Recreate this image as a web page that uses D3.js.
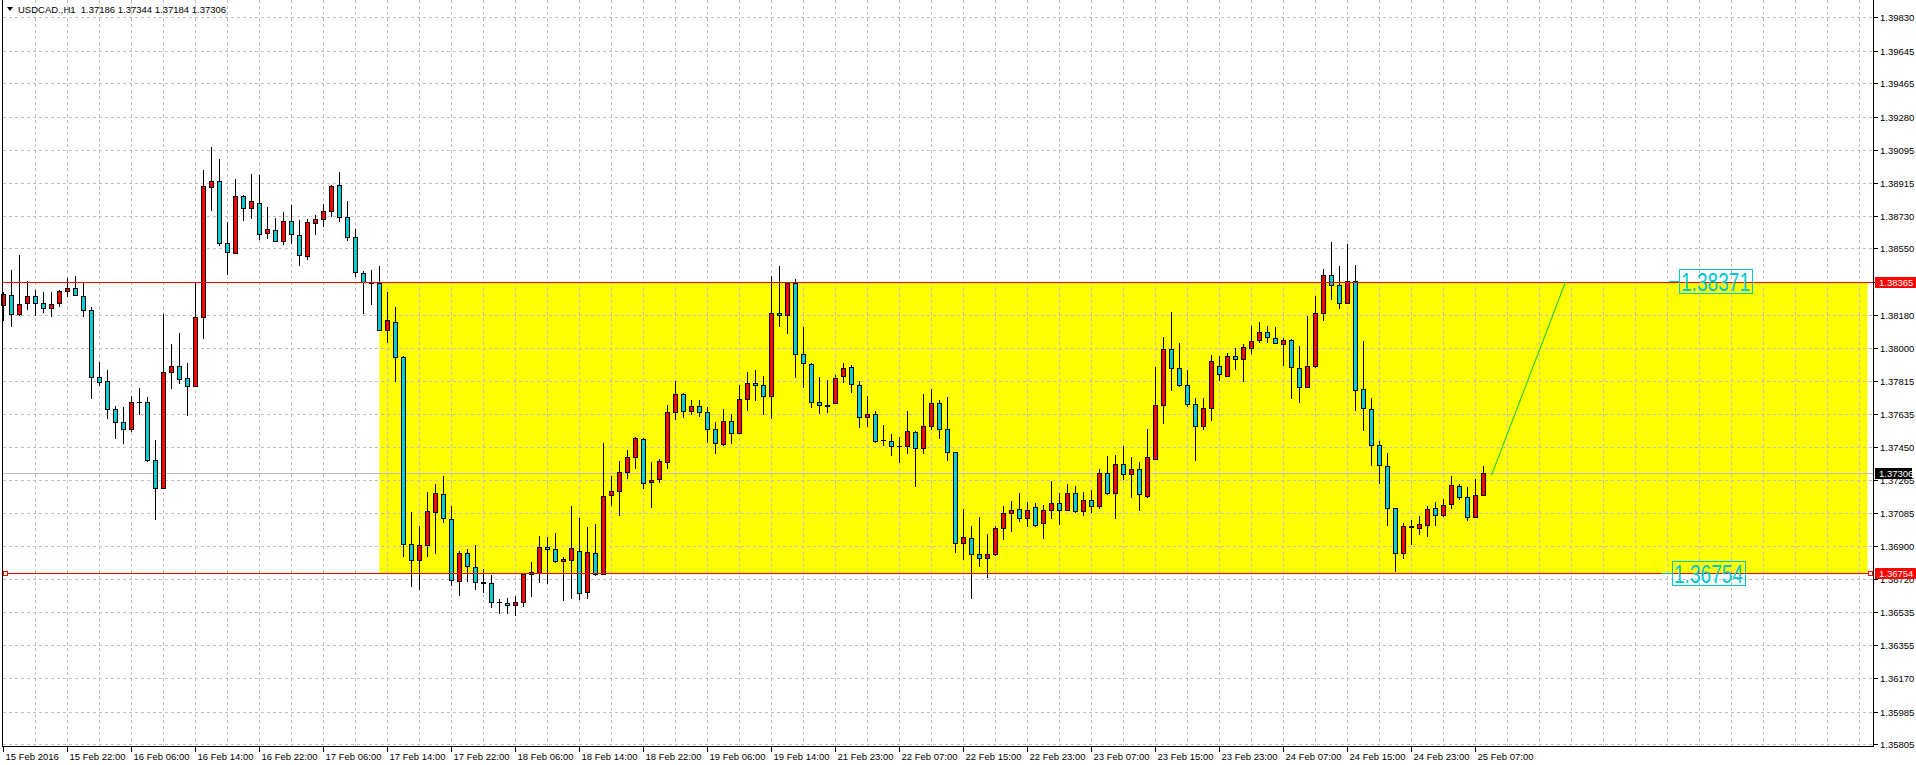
<!DOCTYPE html>
<html><head><meta charset="utf-8">
<script src="https://cdn.jsdelivr.net/npm/d3@7"></script>
<style>
html,body{margin:0;padding:0;background:#fff;overflow:hidden}
svg{display:block}
text{font-family:"Liberation Sans",Arial,sans-serif;font-size:9.5px;white-space:pre}
</style></head><body>
<svg id="c" width="1916" height="765"></svg>
<script>
// ---------------- DATA ----------------
const openP = [1.38239,1.38293,1.38188,1.38248,1.38287,1.38248,1.38221,1.38248,1.38315,1.38332,
1.38287,1.38210,1.37838,1.37816,1.37661,1.37589,1.37550,1.37700,1.37700,1.37379,
1.37226,1.37866,1.37899,1.37833,1.37789,1.38171,1.38891,1.38924,1.38581,1.38525,
1.38841,1.38775,1.38802,1.38636,1.38653,1.38592,1.38703,1.38625,1.38509,1.38692,
1.38714,1.38758,1.38902,1.38725,1.38614,1.38415,1.38361,1.38361,1.38099,1.38145,
1.37949,1.36911,1.36825,1.36908,1.37091,1.37190,1.37052,1.36708,1.36863,1.36786,
1.36703,1.36697,1.36592,1.36586,1.36575,1.36592,1.36749,1.36753,1.36899,1.36886,
1.36819,1.36825,1.36875,1.36647,1.36863,1.36747,1.37185,1.37207,1.37312,1.37395,
1.37495,1.37257,1.37272,1.37368,1.37645,1.37744,1.37650,1.37678,1.37645,1.37550,
1.37467,1.37595,1.37528,1.37717,1.37805,1.37794,1.37733,1.38193,1.38182,1.38361,
1.37966,1.37911,1.37700,1.37683,1.37694,1.37844,1.37894,1.37794,1.37617,1.37634,
1.37489,1.37484,1.37456,1.37456,1.37534,1.37445,1.37567,1.37694,1.37550,1.37423,
1.36919,1.36947,1.36858,1.36836,1.36858,1.37002,1.37085,1.37107,1.37057,1.37118,
1.37030,1.37102,1.37140,1.37102,1.37196,1.37096,1.37157,1.37124,1.37307,1.37196,
1.37357,1.37301,1.37331,1.37179,1.37384,1.37683,1.37994,1.37888,1.37794,1.37689,
1.37567,1.37667,1.37899,1.37844,1.37955,1.37938,1.37999,1.38043,1.38088,1.38055,
1.38021,1.38043,1.37888,1.37783,1.37899,1.38193,1.38404,1.38348,1.38248,1.38370,
1.37772,1.37661,1.37462,1.37345,1.37113,1.36863,1.37009,1.37002,1.37019,1.37113,
1.37074,1.37135,1.37235,1.37174,1.37063,1.37186];
const highP = [1.38309,1.38433,1.38511,1.38372,1.38322,1.38306,1.38306,1.38320,1.38385,1.38400,
1.38356,1.38228,1.37920,1.37879,1.37680,1.37674,1.37735,1.37779,1.37728,1.37489,
1.38188,1.38018,1.38079,1.37918,1.38359,1.38985,1.39109,1.39046,1.38697,1.38935,
1.38847,1.38963,1.38954,1.38780,1.38719,1.38753,1.38791,1.38708,1.38714,1.38736,
1.38797,1.38902,1.38974,1.38814,1.38658,1.38426,1.38431,1.38455,1.38308,1.38228,
1.37955,1.37092,1.37015,1.37203,1.37248,1.37292,1.37126,1.36875,1.36886,1.36906,
1.36777,1.36742,1.36610,1.36612,1.36623,1.36753,1.36815,1.36956,1.36950,1.36976,
1.36841,1.37126,1.37056,1.37009,1.37026,1.37475,1.37292,1.37375,1.37436,1.37508,
1.37501,1.37369,1.37386,1.37685,1.37818,1.37750,1.37711,1.37711,1.37674,1.37591,
1.37663,1.37635,1.37796,1.37863,1.37874,1.37846,1.38400,1.38455,1.38365,1.38383,
1.38116,1.37916,1.37840,1.37824,1.37850,1.37918,1.37903,1.37816,1.37735,1.37652,
1.37574,1.37525,1.37508,1.37652,1.37540,1.37746,1.37774,1.37713,1.37726,1.37425,
1.37109,1.37011,1.37065,1.36971,1.37013,1.37126,1.37153,1.37198,1.37148,1.37142,
1.37131,1.37262,1.37198,1.37248,1.37236,1.37203,1.37214,1.37331,1.37403,1.37408,
1.37458,1.37397,1.37369,1.37552,1.37892,1.38062,1.38200,1.38029,1.37874,1.37722,
1.37724,1.37962,1.37953,1.37971,1.37999,1.38021,1.38121,1.38140,1.38121,1.38117,
1.38055,1.38049,1.38012,1.38178,1.38284,1.38437,1.38583,1.38453,1.38577,1.38461,
1.38038,1.37722,1.37484,1.37417,1.37115,1.37030,1.37048,1.37070,1.37124,1.37146,
1.37163,1.37292,1.37246,1.37229,1.37273,1.37344];
const lowP = [1.38152,1.38123,1.38184,1.38212,1.38182,1.38200,1.38178,1.38230,1.38287,1.38290,
1.38175,1.37720,1.37794,1.37610,1.37499,1.37471,1.37541,1.37632,1.37375,1.37050,
1.37222,1.37776,1.37805,1.37626,1.37786,1.38053,1.38762,1.38570,1.38407,1.38523,
1.38708,1.38719,1.38603,1.38609,1.38590,1.38575,1.38581,1.38459,1.38492,1.38631,
1.38675,1.38730,1.38703,1.38597,1.38398,1.38195,1.38243,1.38097,1.38031,1.37815,
1.36847,1.36679,1.36662,1.36847,1.36862,1.37033,1.36686,1.36629,1.36708,1.36662,
1.36646,1.36562,1.36529,1.36529,1.36520,1.36568,1.36623,1.36703,1.36695,1.36814,
1.36601,1.36612,1.36609,1.36614,1.36742,1.36745,1.37131,1.37072,1.37281,1.37336,
1.37222,1.37116,1.37255,1.37336,1.37604,1.37615,1.37632,1.37621,1.37477,1.37416,
1.37462,1.37471,1.37526,1.37658,1.37713,1.37632,1.37611,1.38119,1.38082,1.37837,
1.37781,1.37670,1.37637,1.37643,1.37692,1.37809,1.37754,1.37562,1.37565,1.37477,
1.37460,1.37405,1.37368,1.37416,1.37233,1.37417,1.37549,1.37499,1.37377,1.36869,
1.36828,1.36614,1.36791,1.36730,1.36852,1.36941,1.36983,1.37041,1.37013,1.37013,
1.36945,1.37057,1.37022,1.37100,1.37091,1.37076,1.37092,1.37113,1.37190,1.37057,
1.37273,1.37174,1.37102,1.37174,1.37382,1.37584,1.37765,1.37789,1.37678,1.37379,
1.37550,1.37600,1.37822,1.37842,1.37883,1.37816,1.37971,1.38032,1.38032,1.38025,
1.37903,1.37720,1.37700,1.37781,1.37894,1.38154,1.38271,1.38221,1.38246,1.37656,
1.37545,1.37351,1.37251,1.37019,1.36764,1.36836,1.36913,1.36969,1.36958,1.37019,
1.37068,1.37113,1.37163,1.37046,1.37061,1.37184];
const closeP = [1.38295,1.38189,1.38243,1.38287,1.38248,1.38221,1.38243,1.38315,1.38332,1.38293,
1.38210,1.37838,1.37811,1.37661,1.37589,1.37550,1.37700,1.37700,1.37379,1.37224,
1.37866,1.37899,1.37827,1.37789,1.38171,1.38897,1.38924,1.38581,1.38531,1.38841,
1.38775,1.38814,1.38631,1.38658,1.38592,1.38703,1.38631,1.38514,1.38697,1.38714,
1.38758,1.38897,1.38725,1.38614,1.38420,1.38365,1.38361,1.38099,1.38151,1.37949,
1.36911,1.36825,1.36908,1.37096,1.37196,1.37057,1.36714,1.36863,1.36791,1.36703,
1.36699,1.36592,1.36592,1.36575,1.36592,1.36749,1.36758,1.36899,1.36886,1.36819,
1.36830,1.36891,1.36642,1.36869,1.36747,1.37179,1.37207,1.37312,1.37395,1.37501,
1.37251,1.37270,1.37373,1.37645,1.37744,1.37650,1.37678,1.37645,1.37550,1.37473,
1.37595,1.37528,1.37717,1.37805,1.37794,1.37733,1.38193,1.38182,1.38361,1.37966,
1.37916,1.37700,1.37683,1.37678,1.37833,1.37888,1.37800,1.37617,1.37634,1.37482,
1.37489,1.37456,1.37456,1.37539,1.37445,1.37567,1.37694,1.37550,1.37423,1.36919,
1.36952,1.36858,1.36836,1.36858,1.37002,1.37085,1.37102,1.37057,1.37102,1.37019,
1.37102,1.37140,1.37102,1.37196,1.37096,1.37157,1.37124,1.37307,1.37196,1.37357,
1.37301,1.37331,1.37190,1.37395,1.37683,1.37994,1.37888,1.37794,1.37689,1.37567,
1.37667,1.37927,1.37855,1.37955,1.37938,1.38005,1.38038,1.38088,1.38060,1.38027,
1.38043,1.37894,1.37783,1.37899,1.38193,1.38404,1.38348,1.38248,1.38370,1.37766,
1.37667,1.37462,1.37351,1.37113,1.36863,1.37013,1.37015,1.37024,1.37107,1.37074,
1.37129,1.37240,1.37174,1.37063,1.37185,1.37306];

const xTickIdx = [0,8,16,24,32,40,48,56,64,72,80,88,96,104,112,120,128,136,144,152,160,168,176,184];
const xTickLabels = ["15 Feb 2016","15 Feb 22:00","16 Feb 06:00","16 Feb 14:00","16 Feb 22:00","17 Feb 06:00",
"17 Feb 14:00","17 Feb 22:00","18 Feb 06:00","18 Feb 14:00","18 Feb 22:00","19 Feb 06:00","19 Feb 14:00",
"21 Feb 23:00","22 Feb 07:00","22 Feb 15:00","22 Feb 23:00","23 Feb 07:00","23 Feb 15:00","23 Feb 23:00",
"24 Feb 07:00","24 Feb 15:00","24 Feb 23:00","25 Feb 07:00"];
const yTicks = [1.39830,1.39645,1.39465,1.39280,1.39095,1.38915,1.38730,1.38550,1.38365,1.38180,1.38000,
1.37815,1.37635,1.37450,1.37265,1.37085,1.36900,1.36720,1.36535,1.36355,1.36170,1.35985,1.35805];

const symbolTitle = "USDCAD.,H1";
const titleOHLC = [1.37186, 1.37344, 1.37184, 1.37306];
const hLinePrices = [1.38365, 1.36754];
const bidPrice = 1.37306;
const zoneBars = [47, 233];
const zonePrices = [1.36754, 1.38365];
const trendBars = [186, 195.25];
const trendPrices = [1.37297, 1.38367];
const noteBars = [209.4, 208.5];
const notePrices = [1.38371, 1.36754];
const noteTexts = ["1.38371", "1.36754"];

// ---------------- CHART ----------------
const UP = "#FF0000", DOWN = "#00CED1", GRID = "#C0C0C0", NOTE = "#00C8D2";
const svg = d3.select("#c");
const L = 2.5, R = 1873.5, T = 0, B = 746.5;
const x = d3.scaleLinear().domain([0, 1]).range([3.5, 11.5]);
const y = d3.scaleLinear().domain([1.35805, 1.39830]).range([744.6, 17.8]);
const py = v => Math.floor(y(v)) + 0.5;

svg.append("rect").attr("width", 1916).attr("height", 765).attr("fill", "#fff");

// zone rectangle
svg.append("rect")
  .attr("x", x(zoneBars[0])).attr("y", py(zonePrices[1]))
  .attr("width", x(zoneBars[1]) - x(zoneBars[0]))
  .attr("height", py(zonePrices[0]) - py(zonePrices[1]))
  .attr("fill", "#FFFF00");

// grid
const gridG = svg.append("g").attr("stroke", GRID).attr("stroke-dasharray", "3,3").attr("shape-rendering", "crispEdges");
const vIdx = d3.range(4, 240, 4).filter(i => x(i) < R - 2);
gridG.selectAll("line.v").data(vIdx).join("line").attr("class", "v")
  .attr("x1", d => x(d)).attr("x2", d => x(d)).attr("y1", T).attr("y2", B);
gridG.selectAll("line.h").data(yTicks).join("line").attr("class", "h")
  .attr("x1", L).attr("x2", R).attr("y1", d => py(d)).attr("y2", d => py(d));

// bid line
svg.append("line").attr("x1", L).attr("x2", R).attr("y1", py(bidPrice)).attr("y2", py(bidPrice))
  .attr("stroke", "#C0C0C0").attr("shape-rendering", "crispEdges");

// candles
const bars = d3.range(openP.length).map(i => ({ i, o: openP[i], h: highP[i], l: lowP[i], c: closeP[i] }));
const cg = svg.append("g").attr("shape-rendering", "crispEdges");
cg.selectAll("line.w").data(bars).join("line").attr("class", "w")
  .attr("x1", d => x(d.i)).attr("x2", d => x(d.i))
  .attr("y1", d => Math.floor(y(d.h))).attr("y2", d => Math.floor(y(d.l)) + 1)
  .attr("stroke", "#000");
bars.forEach(d => {
  const t = Math.floor(y(Math.max(d.o, d.c))), b = Math.floor(y(Math.min(d.o, d.c)));
  if (b - t < 1) {
    cg.append("line").attr("x1", x(d.i) - 2.5).attr("x2", x(d.i) + 2.5)
      .attr("y1", t + 0.5).attr("y2", t + 0.5).attr("stroke", "#000");
  } else {
    cg.append("rect").attr("x", x(d.i) - 2).attr("y", t + 0.5).attr("width", 4).attr("height", b - t)
      .attr("fill", d.c >= d.o ? UP : DOWN).attr("stroke", "#000");
  }
});

// horizontal red lines
svg.selectAll("line.hl").data(hLinePrices).join("line").attr("class", "hl")
  .attr("x1", L).attr("x2", R).attr("y1", d => py(d)).attr("y2", d => py(d))
  .attr("stroke", "#FF0000").attr("shape-rendering", "crispEdges");
// selection markers on the lower line
[3.5, 1868.5].forEach(sx => {
  svg.append("rect").attr("x", sx).attr("y", py(hLinePrices[1]) - 2).attr("width", 4).attr("height", 4)
    .attr("fill", "#fff").attr("stroke", "#FF0000").attr("shape-rendering", "crispEdges");
});

// trend line
svg.append("line")
  .attr("x1", x(trendBars[0])).attr("y1", y(trendPrices[0]))
  .attr("x2", x(trendBars[1])).attr("y2", y(trendPrices[1]))
  .attr("stroke", "#32CD32").attr("stroke-width", 1.2);

// text notes
noteTexts.forEach((t, k) => {
  const nx = Math.round(x(noteBars[k])), ny = py(notePrices[k]);
  const g = svg.append("g");
  g.append("line").attr("x1", nx - 10).attr("x2", nx).attr("y1", ny).attr("y2", ny)
    .attr("stroke", NOTE).attr("shape-rendering", "crispEdges");
  const w = 73;
  g.append("text").attr("x", nx + 2).attr("y", ny + 9)
    .style("font-size", "25px").attr("fill", NOTE)
    .attr("textLength", w - 4).attr("lengthAdjust", "spacingAndGlyphs").text(t);
  g.append("rect").attr("x", nx + 0.5).attr("y", ny - 12).attr("width", w).attr("height", 24)
    .attr("fill", "none").attr("stroke", NOTE).attr("shape-rendering", "crispEdges");
});

// frame
const fr = svg.append("g").attr("stroke", "#000").attr("shape-rendering", "crispEdges");
fr.append("line").attr("x1", L).attr("x2", L).attr("y1", T).attr("y2", B);
fr.append("line").attr("x1", R).attr("x2", R).attr("y1", T).attr("y2", B);
fr.append("line").attr("x1", L).attr("x2", R).attr("y1", B).attr("y2", B);

// right axis
const ra = svg.append("g");
ra.selectAll("line").data(yTicks).join("line")
  .attr("x1", R).attr("x2", R + 4).attr("y1", d => py(d)).attr("y2", d => py(d))
  .attr("stroke", "#000").attr("shape-rendering", "crispEdges");
ra.selectAll("text").data(yTicks).join("text")
  .attr("x", 1880).attr("y", d => py(d) + 3.5).attr("fill", "#000").text(d => d.toFixed(5));

// price tags
function tag(v, color, w) {
  const yy = py(v);
  svg.append("rect").attr("x", 1875).attr("y", yy - 5.5).attr("width", w).attr("height", 11).attr("fill", color);
  svg.append("text").attr("x", 1879).attr("y", yy + 3.5).attr("fill", "#fff").text(v.toFixed(5));
}
tag(bidPrice, "#000", 37);
hLinePrices.forEach(v => tag(v, "#FF0000", 41));

// bottom axis
const ba = svg.append("g");
ba.selectAll("line").data(xTickIdx).join("line")
  .attr("x1", d => Math.max(L, x(d))).attr("x2", d => Math.max(L, x(d)))
  .attr("y1", B).attr("y2", B + 5).attr("stroke", "#000").attr("shape-rendering", "crispEdges");
ba.selectAll("text").data(xTickIdx).join("text")
  .attr("x", d => Math.max(L, x(d)) + 2).attr("y", 760).attr("fill", "#000")
  .text((d, k) => xTickLabels[k]);

// title
svg.append("path").attr("d", "M7,7 L13,7 L10,11 Z").attr("fill", "#000");
svg.append("text").attr("x", 18).attr("y", 13).attr("fill", "#000")
  .text(symbolTitle + "  " + titleOHLC.map(v => v.toFixed(5)).join(" "));
</script>
</body></html>
